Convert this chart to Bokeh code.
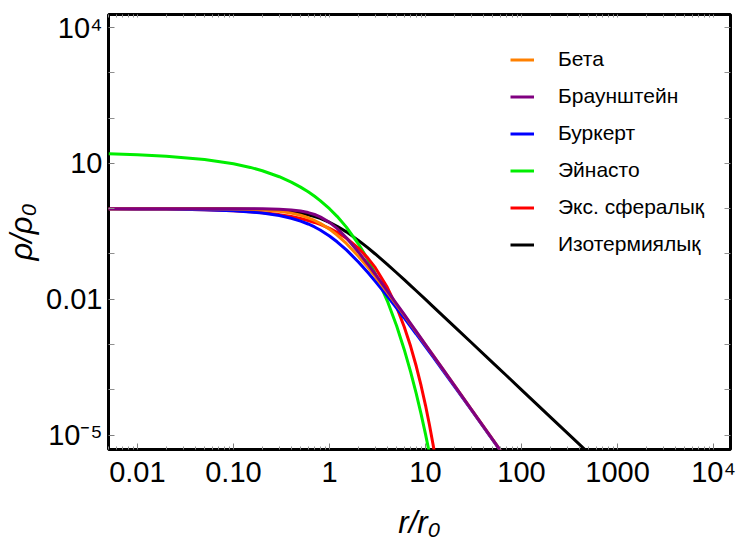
from bokeh.plotting import figure
from bokeh.models import (Range1d, FixedTicker, LogAxis, Legend, LegendItem,
                          CustomJSTickFormatter)
from bokeh.embed import file_html
from bokeh.resources import INLINE

# ---------------- data ----------------
r = [0.005, 0.01, 0.02, 0.05, 0.1, 0.15, 0.2, 0.3, 0.4, 0.5, 0.6, 0.7, 0.8,
     1.0, 1.2, 1.5, 2, 2.5, 3, 4, 5, 6, 7, 8, 10, 12, 15, 20, 30, 50, 70,
     100, 200, 500, 1000]
r_steep = [0.005, 0.01, 0.02, 0.05, 0.1, 0.15, 0.2, 0.3, 0.4, 0.5, 0.6, 0.7,
           0.8, 1.0, 1.2, 1.5, 2, 2.5, 3, 4, 5, 6, 7, 8, 9, 10, 11, 12, 13, 14]

isothermal = [1.0, 0.9999, 0.9996, 0.9975, 0.990, 0.978, 0.962, 0.917, 0.862,
              0.800, 0.735, 0.671, 0.610, 0.500, 0.410, 0.308, 0.200, 0.138,
              0.100, 0.0588, 0.0385, 0.0270, 0.0200, 0.0154, 0.0099, 0.0069,
              0.00442, 0.00249, 0.00111, 0.0004, 0.000204, 0.0001, 2.5e-5,
              4.0e-6, 1.0e-6]
brownstein = [1.0, 1.0, 1.0, 0.9999, 0.999, 0.9966, 0.992, 0.974, 0.940, 0.889,
              0.822, 0.745, 0.661, 0.500, 0.367, 0.229, 0.111, 0.0602, 0.0357,
              0.0154, 0.00794, 0.00461, 0.00291, 0.00195, 0.000999, 0.000578,
              0.000296, 0.000125, 3.70e-5, 8.0e-6, 2.92e-6, 1.0e-6]
burkert = [0.995, 0.990, 0.980, 0.950, 0.900, 0.850, 0.801, 0.706, 0.616,
           0.533, 0.460, 0.395, 0.339, 0.250, 0.186, 0.123, 0.0667, 0.0394,
           0.0250, 0.01176, 0.00641, 0.00386, 0.00250, 0.00171, 0.000900,
           0.000531, 0.000277, 0.000119, 3.58e-5, 7.84e-6, 2.87e-6, 9.9e-7]
beta = [1.0, 0.9999, 0.9994, 0.9963, 0.985, 0.967, 0.943, 0.879, 0.800, 0.716,
        0.631, 0.550, 0.476, 0.354, 0.262, 0.171, 0.0894, 0.0512, 0.0316,
        0.01427, 0.00754, 0.00444, 0.00283, 0.00191, 0.000985, 0.000573,
        0.000294, 0.0001245, 3.70e-5, 8.0e-6, 2.92e-6, 1.0e-6]
exp_sphere = [0.995, 0.990, 0.980, 0.951, 0.905, 0.861, 0.819, 0.741, 0.670,
              0.607, 0.549, 0.497, 0.449, 0.368, 0.301, 0.223, 0.135, 0.0821,
              0.0498, 0.0183, 0.00674, 0.00248, 0.000912, 0.000335, 0.000123,
              4.54e-5, 1.67e-5, 6.14e-6, 2.26e-6, 8.3e-7]
einasto = [16.4, 15.6, 14.5, 12.26, 9.85, 8.17, 6.90, 5.09, 3.87, 3.00, 2.36,
           1.88, 1.51, 1.0, 0.678, 0.392, 0.168, 0.0766, 0.0366, 0.00925,
           0.00259, 0.000779, 0.000249, 8.35e-5, 2.91e-5, 1.05e-5, 3.92e-6,
           1.50e-6, 5.87e-7, 2.35e-7]

labels = ["Бета", "Браунштейн", "Буркерт", "Эйнасто", "Экс. сфералық",
          "Изотермиялық"]

x_major = [0.01, 0.1, 1, 10, 100, 1000, 10000]
y_major = [1e-5, 1e-2, 10, 1e4]            # labelled decades
y_other = [1e-4, 1e-3, 1e-1, 1, 100, 1000]  # unlabelled decade ticks

# ---------------- figure ----------------
p = figure(width=737, height=543, x_axis_type="log", y_axis_type="log",
           x_range=Range1d(0.005, 15000), y_range=Range1d(4.8e-6, 1.95e4),
           output_backend="svg", toolbar_location=None,
           min_border_left=108, min_border_right=7, min_border_top=14,
           min_border_bottom=94)
p.grid.visible = False
p.outline_line_color = "black"
p.outline_line_width = 3
p.background_fill_color = "white"
p.border_fill_color = "white"

x_minor = [k * 10.0 ** e for e in range(-3, 5) for k in range(2, 10)]
xticker = FixedTicker(ticks=x_major, minor_ticks=x_minor)
yticker = FixedTicker(ticks=y_major, minor_ticks=y_other)
top_ticker = FixedTicker(ticks=[], minor_ticks=x_major + x_minor)
right_ticker = FixedTicker(ticks=[], minor_ticks=y_major + y_other)

xfmt = CustomJSTickFormatter(code="""
const e = Math.round(Math.log10(tick));
const m = {"-2": "0.01", "-1": "0.10", "0": "1", "1": "10", "2": "100",
           "3": "1000", "4": "10\u2074"};
return m[String(e)];
""")
yfmt = CustomJSTickFormatter(code="""
const e = Math.round(Math.log10(tick));
const m = {"4": "10\u2074", "1": "10", "-2": "0.01", "-5": "10\u207b\u2075"};
return m[String(e)];
""")

p.xaxis.ticker = xticker
p.yaxis.ticker = yticker
p.xaxis.formatter = xfmt
p.yaxis.formatter = yfmt


def style_axis(ax, minor_len=3):
    ax.axis_line_color = None
    ax.major_tick_in = 6
    ax.major_tick_out = 0
    ax.minor_tick_in = minor_len
    ax.minor_tick_out = 0
    ax.major_tick_line_color = "#808080"
    ax.minor_tick_line_color = "#909090"
    ax.major_tick_line_width = 1
    ax.minor_tick_line_width = 1
    ax.major_label_text_font = "Liberation Sans"
    ax.major_label_text_font_size = "29px"
    ax.major_label_text_color = "black"
    ax.major_label_standoff = 6


for ax in p.xaxis:
    style_axis(ax, 3)
for ax in p.yaxis:
    style_axis(ax, 6)

p.xaxis.axis_label = "r/r\u2080"
p.yaxis.axis_label = "\u03c1/\u03c1\u2080"
for ax in list(p.xaxis) + list(p.yaxis):
    ax.axis_label_text_font = "Liberation Sans"
    ax.axis_label_text_font_style = "italic"
    ax.axis_label_text_font_size = "31px"
    ax.axis_label_text_color = "black"
p.xaxis.axis_label_standoff = 14
p.yaxis.axis_label_standoff = 4

top = LogAxis(ticker=top_ticker, formatter=xfmt)
style_axis(top, 3)
top.major_label_standoff = 0
p.add_layout(top, "above")
right = LogAxis(ticker=right_ticker, formatter=yfmt)
style_axis(right, 6)
right.major_label_standoff = 0
p.add_layout(right, "right")

# ---------------- curves ----------------
lw = 3
r_iso = p.line(r, isothermal, line_color="black", line_width=lw)
r_ein = p.line(r_steep, einasto, line_color="#00EE00", line_width=lw)
r_exp = p.line(r_steep, exp_sphere, line_color="#FF0000", line_width=lw)
r_bur = p.line(r[:len(burkert)], burkert, line_color="#0000FF", line_width=lw)
r_bet = p.line(r[:len(beta)], beta, line_color="#FF8000", line_width=lw)
r_bro = p.line(r[:len(brownstein)], brownstein, line_color="#800080",
               line_width=lw)

renderers = [r_bet, r_bro, r_bur, r_ein, r_exp, r_iso]
items = [LegendItem(label=lab, renderers=[rr]) for lab, rr in
         zip(labels, renderers)]
legend = Legend(items=items, location=(402, 193), border_line_color=None,
                background_fill_alpha=0, padding=0, margin=0, spacing=13,
                glyph_width=24, glyph_height=21, label_height=21,
                label_standoff=24, label_text_font="Liberation Sans",
                label_text_font_size="21px", label_text_color="black")
p.add_layout(legend)

open("out.html", "w").write(file_html(p, INLINE))
